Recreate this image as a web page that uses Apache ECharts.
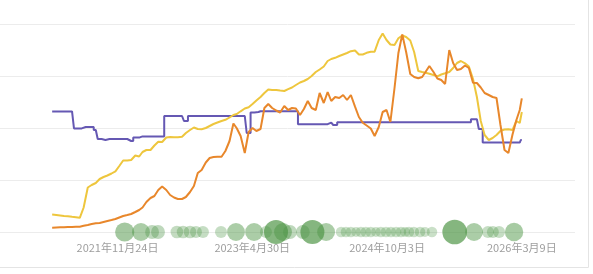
<!DOCTYPE html>
<html><head><meta charset="utf-8">
<script src="https://cdn.jsdelivr.net/npm/echarts@6/dist/echarts.min.js"></script>
<style>html,body{margin:0;padding:0;background:#fff}#c{width:593px;height:274px}</style>
</head><body><div id="c"></div>
<script>
const dates = [
'2021-03-16','2021-04-01','2021-04-16','2021-05-01','2021-05-16','2021-06-01','2021-06-16','2021-07-01','2021-07-16','2021-08-01','2021-08-16','2021-09-01','2021-09-16','2021-10-01','2021-10-16','2021-11-01','2021-11-16','2021-12-01','2021-12-16',
'2022-01-01','2022-01-16','2022-02-01','2022-02-16','2022-03-01','2022-03-16','2022-04-01','2022-04-16','2022-05-01','2022-05-16','2022-06-01','2022-06-16','2022-07-01','2022-07-16','2022-08-01','2022-08-16','2022-09-01','2022-09-16','2022-10-01','2022-10-16','2022-11-01','2022-11-16','2022-12-01','2022-12-16',
'2023-01-01','2023-01-16','2023-02-01','2023-02-16','2023-03-01','2023-03-16','2023-04-01','2023-04-16','2023-05-01','2023-05-16','2023-06-01','2023-06-16','2023-07-01','2023-07-16','2023-08-01','2023-08-16','2023-09-01','2023-09-16','2023-10-01','2023-10-16','2023-11-01','2023-11-16','2023-12-01','2023-12-16',
'2024-01-01','2024-01-16','2024-02-01','2024-02-16','2024-03-01','2024-03-16','2024-04-01','2024-04-16','2024-05-01','2024-05-16','2024-06-01','2024-06-16','2024-07-01','2024-07-16','2024-08-01','2024-08-16','2024-09-01','2024-09-16','2024-10-01','2024-10-16','2024-11-01','2024-11-16','2024-12-01','2024-12-16',
'2025-01-01','2025-01-16','2025-02-01','2025-02-16','2025-03-01','2025-03-16','2025-04-01','2025-04-16','2025-05-01','2025-05-16','2025-06-01','2025-06-16','2025-07-01','2025-07-16','2025-08-01','2025-08-16','2025-09-01','2025-09-16','2025-10-01','2025-10-16','2025-11-01','2025-11-16','2025-12-01','2025-12-16',
'2026-01-01','2026-01-16','2026-02-01','2026-02-16','2026-03-01','2026-03-09'
];
const purple = [
60.3,60.3,60.3,60.3,60.3,60.3,51.8,51.8,52.5,52.5,52.5,51,46.5,46,46.5,46.5,46.5,46.5,46.5,
46.5,45.5,47.2,47.2,47.8,47.8,47.8,47.8,47.8,47.8,58,58,58,58,58,55.5,58,58,58,58,58,58,58,58,
58,58,58,58,58,58,58,49.5,59.8,60,60.4,60.4,60.4,60.4,60.4,60.4,60.4,60.4,60.4,60.4,53.9,53.9,53.9,53.9,
53.9,53.9,53.9,53.9,54.7,53.5,54.9,54.9,54.9,54.9,54.9,54.9,54.9,54.9,54.9,54.9,54.9,54.9,54.9,54.9,54.9,54.9,54.9,54.9,
54.9,54.9,54.9,54.9,54.9,54.9,54.9,54.9,54.9,54.9,54.9,54.9,54.9,54.9,54.9,54.9,56.4,56.4,51.5,44.8,44.7,44.7,44.7,44.7,
44.7,44.7,44.7,44.7,44.7,46
];
const yellow = [
8.75,8.5,8.25,8,7.85,7.6,7.4,7.1,12.25,22.25,23.5,24.5,26.5,27.5,28.25,29.25,30.35,33,35.75,
35.75,36,38.25,37.75,40,41,41,43.25,45.15,45,47.25,47.5,47.35,47.4,47.6,49.5,51,52.25,51.5,51.4,52,53,54,54.75,
55.5,56.1,57.25,58.5,59,60.35,61.75,62.4,64,65.75,67.5,69.5,71.25,71,71,70.75,70.5,71.4,72.25,73.5,74.75,75.5,76.5,78,
80,81.25,82.75,85.5,86.5,87.1,88,88.75,89.5,90.4,90.75,88.75,88.75,89.6,90.15,90.15,96,99.25,96,93.75,93.5,96.85,98.25,97.5,
95.75,90,80.5,80,79.6,79.15,78.5,77.85,78.75,79.35,80,82,84.5,85.5,84.35,82.75,76.5,67.5,55.5,48.5,46,47,48.5,50.5,
51.25,51.35,51,55.5,54.5,60
];
const orange = [
2.15,2.25,2.35,2.4,2.5,2.5,2.6,2.65,3.1,3.5,4,4.4,4.5,5,5.5,6,6.5,7.25,8,
8.5,9,10,11,12.25,15,17,18,21,22.75,21,18.5,17.25,16.5,16.5,17.5,20,23,29.5,31,34.75,37,37.5,37.65,
37.65,40.5,45.5,54.25,51.85,48,39.5,50,52,50.5,51.5,62,64,62,60.75,59.75,63,61,62,61.75,58.5,61.5,65.5,62,
61,69.5,64.5,70,65.5,67.5,67,68.5,66,68.5,62.65,57.5,54.6,53.25,51.75,48,52.5,60,61,55,72,89.5,98.8,90,
79,77.5,76.85,77.5,80,83,80,76.75,76,74,91,84.5,81,81.5,83.25,82,74.65,74.5,72.25,69.5,68.5,67.5,67,53.75,
41,39.5,48.75,56,61,66.85
];
const bubbleDates = [
'2021-12-22','2022-02-23','2022-04-07','2022-04-30','2022-07-12','2022-08-05','2022-09-01','2022-09-24','2022-10-21','2022-12-30',
'2023-02-26','2023-05-07','2023-06-22','2023-07-31','2023-08-27','2023-09-23','2023-11-12','2023-12-19','2024-02-10',
'2024-04-08','2024-04-27','2024-05-16','2024-06-05','2024-06-24','2024-07-13','2024-08-01','2024-08-21','2024-09-09','2024-09-29',
'2024-10-18','2024-11-07','2024-11-26','2024-12-12','2024-12-27','2025-01-15','2025-02-08','2025-02-27','2025-03-26',
'2025-06-22','2025-09-05','2025-10-29','2025-11-17','2025-12-11','2026-02-07'
];
const bubbleValues = [
23,20,12,12,10,10,10,9,9,9,
20,20,9,36,20,12,12,36,20,
7,7,7,6,7,7,7,6,7,7,
7,7,7,6,7,7,7,6,7,
38,20,9,9,9,21
];
const tickLabels = ['2021-11-24','2023-04-30','2024-10-03','2026-03-09'];

const p = s => { const a = s.split('-').map(Number); return new Date(a[0], a[1]-1, a[2]).getTime(); };
const fmt = v => { const d = new Date(v); return d.getFullYear() + '年' + (d.getMonth()+1) + '月' + d.getDate() + '日'; };
const lineData = arr => dates.map((d, i) => [p(d), arr[i]]);

const chart = echarts.init(document.getElementById('c'));
chart.setOption({
  animation: false,
  grid: { left: 0, right: 18, top: 24, bottom: 42 },
  xAxis: {
    type: 'value', min: p('2020-08-26'), max: p('2026-10-01'),
    axisLine: { show: false }, axisTick: { show: false }, splitLine: { show: false },
    axisLabel: { customValues: tickLabels.map(p), formatter: fmt, color: '#9e9e9e', fontSize: 11, margin: 10, fontFamily: 'Noto Sans CJK SC' }
  },
  yAxis: {
    type: 'value', min: 0, max: 104, interval: 26,
    axisLabel: { show: false }, axisLine: { show: false }, axisTick: { show: false },
    splitLine: { lineStyle: { color: '#ececec', width: 1 } }
  },
  graphic: [
    { type: 'line', silent: true, shape: { x1: 588.5, y1: 0, x2: 588.5, y2: 267.5 }, style: { stroke: '#e4e4e4', lineWidth: 1 } },
    { type: 'line', silent: true, shape: { x1: 0, y1: 267.5, x2: 588.5, y2: 267.5 }, style: { stroke: '#e4e4e4', lineWidth: 1 } }
  ],
  series: [
    { type: 'line', data: lineData(purple), step: 'middle', showSymbol: false, lineStyle: { color: '#6558b3', width: 2 }, z: 2 },
    { type: 'line', data: lineData(yellow), showSymbol: false, lineStyle: { color: '#eec63d', width: 2 }, z: 3 },
    { type: 'line', data: lineData(orange), showSymbol: false, lineStyle: { color: '#e8872b', width: 2 }, z: 4 },
    { type: 'scatter', clip: false, z: 5,
      data: bubbleDates.map((d, i) => [p(d), 0, bubbleValues[i]]),
      symbolSize: v => 4 * Math.sqrt(v[2]),
      itemStyle: { color: prm => 'rgba(76,148,68,' + Math.min(0.85, 0.25 + prm.value[2] * 0.017).toFixed(2) + ')' }
    }
  ]
});
</script>
</body></html>
